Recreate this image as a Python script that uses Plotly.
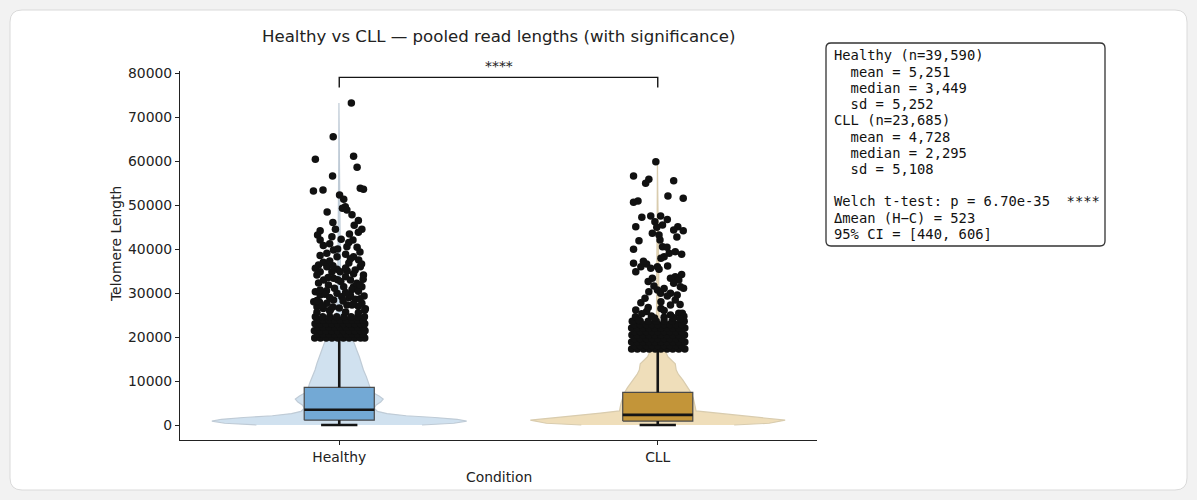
import plotly.graph_objects as go

# ---------------- data ----------------
categories = ["Healthy", "CLL"]
cat_pos = [0, 1]

# box-plot statistics
q1 = [1100, 900]
median = [3449, 2295]
q3 = [8560, 7400]
lower_fence = [0, 0]
upper_fence = [19750, 17150]

# summary statistics (text box)
group_n = ["39,590", "23,685"]
group_mean = ["5,251", "4,728"]
group_median = ["3,449", "2,295"]
group_sd = ["5,252", "5,108"]
welch_p = "6.70e-35"
sig_label = "****"
delta_mean = "523"
ci_low, ci_high = "440", "606"

# violin density profiles (value, half-width in category units)
healthy_violin_vals = [0, 400, 900, 1300, 1700, 2100, 2600, 3100, 3800, 4500, 5200, 5900, 6600,
                       7400, 8500, 9500, 11000, 12500, 14000, 15500, 17000, 18600, 20000, 22000,
                       25000, 30000, 40000, 50000, 60000, 73200]
healthy_violin_half = [0.26, 0.36, 0.40, 0.37, 0.30, 0.21, 0.15, 0.12, 0.11, 0.115, 0.13, 0.138,
                       0.125, 0.105, 0.097, 0.093, 0.085, 0.076, 0.07, 0.063, 0.055, 0.047, 0.035,
                       0.02, 0.01, 0.005, 0.003, 0.002, 0.0015, 0.001]
cll_violin_vals = [0, 400, 1100, 1600, 2200, 2700, 3200, 4000, 5000, 6000, 7300, 8500, 9500,
                   10200, 11500, 12500, 13900, 15500, 16400, 17500, 19000, 21000, 25000, 35000,
                   45000, 59840]
cll_violin_half = [0.24, 0.35, 0.40, 0.33, 0.25, 0.18, 0.12, 0.118, 0.115, 0.112, 0.105, 0.095,
                   0.086, 0.079, 0.065, 0.058, 0.055, 0.032, 0.026, 0.02, 0.012, 0.007, 0.004,
                   0.003, 0.002, 0.001]

# outlier points (value, horizontal jitter)
healthy_out_vals = [73200, 65500, 61100, 60400, 58570, 56600, 53800, 53560, 53400, 53180, 52270,
                    51300, 49600, 49250, 48860, 48400, 45380, 44470, 44470, 44160, 43400, 43180,
                    42800, 42200, 42050, 42050, 40530, 40390, 39770, 39020, 38250, 38250, 37500,
                    36360, 35980, 35980, 35600, 35380, 35230, 34850, 34850, 34850, 34090, 34090,
                    33330, 32950, 32950, 31820, 31440, 31440, 31440, 30300, 29920, 29550, 29170,
                    28560, 28410, 27650, 27650, 27270, 26890, 28000, 28900, 27000, 26500, 26600,
                    26400, 27900, 29300, 30800, 30500, 32200, 33700, 36800, 37000, 38800, 41200,
                    46500, 26200, 27300, 28200, 29700, 30900, 33000,
                    25600, 25900, 25700, 25500, 26100, 26800, 27100, 27500, 28300, 28700, 29000,
                    29500, 30100, 30400, 30700, 31100, 31800, 32300, 32600, 33100, 33500, 34400,
                    35000, 35700, 36200, 36600, 37300, 37800, 38500, 39300, 40000, 40800, 41500,
                    43800, 46000, 47800]
healthy_out_jit = [0.038, -0.019, 0.045, -0.075, 0.056, -0.021, 0.066, 0.076, -0.051, -0.081, 0.001,
                   0.014, 0.019, 0.010, 0.024, -0.038, 0.047, 0.071, -0.012, -0.060, 0.032, -0.068,
                   -0.023, 0.006, -0.060, 0.043, 0.024, 0.056, -0.018, -0.039, -0.007, 0.045, 0.061,
                   -0.065, -0.039, 0.066, -0.075, -0.007, 0.050, -0.060, -0.023, 0.003, -0.070, 0.076,
                   -0.018, -0.049, 0.035, -0.034, 0.014, 0.045, 0.071, -0.075, -0.007, -0.060, 0.008,
                   0.050, -0.018, -0.039, 0.071, 0.024, -0.070, -0.080, 0.030, 0.060, -0.050, 0.000,
                   0.082, -0.062, 0.078, 0.040, -0.040, 0.055, 0.020, 0.030, -0.050, 0.020, -0.030,
                   0.060, -0.028, 0.040, 0.012, -0.045, 0.060, -0.005,
                   -0.070, -0.030, 0.020, 0.060, 0.080, -0.020, -0.055, 0.045, -0.070, 0.065, -0.030,
                   0.035, 0.020, 0.060, -0.060, -0.015, 0.065, -0.065, 0.005, 0.075, -0.035, 0.045,
                   0.025, 0.020, -0.020, 0.070, -0.030, 0.035, -0.060, 0.065, -0.005, -0.050, 0.030,
                   0.060, -0.020, 0.040]

healthy_block_vals = ([19800] * 10 + [20600] * 9 + [21400] * 10 + [22200] * 9 + [23000] * 10
                      + [23800] * 9 + [24600] * 8)
healthy_block_jit = [-0.077, -0.059, -0.041, -0.023, -0.005, 0.013, 0.031, 0.049, 0.067, 0.080,
                     -0.068, -0.050, -0.032, -0.014, 0.004, 0.022, 0.040, 0.058, 0.075,
                     -0.078, -0.059, -0.041, -0.023, -0.005, 0.013, 0.031, 0.049, 0.067, 0.081,
                     -0.068, -0.050, -0.032, -0.014, 0.004, 0.022, 0.040, 0.058, 0.076,
                     -0.076, -0.059, -0.041, -0.023, -0.005, 0.013, 0.031, 0.049, 0.067, 0.080,
                     -0.068, -0.050, -0.032, -0.014, 0.004, 0.022, 0.040, 0.058, 0.075,
                     -0.075, -0.052, -0.030, -0.008, 0.015, 0.037, 0.058, 0.079]

cll_out_vals = [59840, 56590, 55840, 55530, 54930, 52050, 51520, 50910, 50610, 47500, 47500, 47200,
                46200, 45450, 45070, 45070, 44920, 44320, 44160, 43560, 43180, 42050, 41890, 40530,
                40380, 39920, 39020, 38790, 38250, 37880, 36740, 36590, 36140, 35980, 35980, 35610,
                35380, 34850, 33710, 33330, 33330, 32950, 32200, 31590, 31440, 31060, 30680, 30300,
                29920, 29920, 29550, 28410, 27800, 27270, 26140, 25380, 25380, 24600, 24800, 24500,
                24400, 25800, 26500, 24700,
                23900, 24100, 24300, 25000, 25300, 26000, 26700, 27400, 28000, 28800, 29300, 31000,
                32600, 34200, 37200, 39400, 42700, 46700]
cll_out_jit = [-0.006, -0.076, -0.028, 0.050, -0.038, 0.032, 0.080, -0.062, -0.076, -0.022, 0.009,
               -0.050, -0.009, 0.015, -0.069, 0.063, -0.003, 0.050, 0.080, -0.017, 0.004, 0.007,
               -0.059, 0.015, 0.029, -0.076, 0.036, 0.075, 0.020, 0.010, -0.076, -0.035, 0.031,
               -0.053, -0.001, -0.022, 0.004, -0.069, 0.055, -0.017, 0.040, 0.066, 0.050, -0.012,
               0.071, 0.081, -0.001, -0.028, 0.009, 0.040, 0.061, 0.055, -0.053, 0.040, -0.069,
               0.066, 0.077, -0.070, -0.020, 0.020, 0.050, -0.035, 0.010, 0.082,
               -0.060, 0.070, -0.010, 0.040, -0.050, 0.020, -0.030, 0.070, 0.010, -0.040, 0.030,
               0.020, -0.030, 0.075, -0.045, 0.055, 0.060, 0.030]

cll_block_vals = ([17250] * 10 + [18050] * 9 + [18850] * 10 + [19650] * 9 + [20450] * 10
                  + [21250] * 9 + [22050] * 10 + [22850] * 9 + [23600] * 7)
cll_block_jit = [-0.082, -0.064, -0.045, -0.027, -0.008, 0.010, 0.029, 0.047, 0.066, 0.085,
                 -0.073, -0.055, -0.036, -0.018, 0.001, 0.020, 0.038, 0.057, 0.075,
                 -0.082, -0.064, -0.045, -0.027, -0.008, 0.010, 0.029, 0.047, 0.066, 0.085,
                 -0.073, -0.055, -0.036, -0.018, 0.001, 0.020, 0.038, 0.057, 0.075,
                 -0.081, -0.064, -0.045, -0.027, -0.008, 0.010, 0.029, 0.047, 0.066, 0.084,
                 -0.073, -0.055, -0.036, -0.018, 0.001, 0.020, 0.038, 0.057, 0.075,
                 -0.082, -0.064, -0.045, -0.027, -0.008, 0.010, 0.029, 0.047, 0.066, 0.085,
                 -0.073, -0.055, -0.036, -0.018, 0.001, 0.020, 0.038, 0.057, 0.076,
                 -0.080, -0.055, -0.030, -0.005, 0.020, 0.045, 0.083]

bracket_y = 79000
bracket_drop = 2300
stars_y = 81500

# ---------------- styling ----------------
violin_fill = ["#d0e1ef", "#efdeba"]
violin_line = ["#bfcbd6", "#d9ccae"]
box_fill = ["#73a9d5", "#c39539"]
BOX_HALF = 0.11
CAP_HALF = 0.057
FONT = "DejaVu Sans"
MONO = "DejaVu Sans Mono"
TXT = "#222222"

W, H = 1197, 500
L, R, T, B = 180, 380, 71, 60
PW, PH = W - L - R, H - T - B
X_RANGE = [-0.5, 1.5]
Y_RANGE = [-3410, 80455]


def px_to_paper_x(px):
    return (px - L) / PW


def px_to_paper_y(py):
    return (H - B - py) / PH


def data_to_paper_x(v):
    return (v - X_RANGE[0]) / (X_RANGE[1] - X_RANGE[0])


def data_to_paper_y(v):
    return (v - Y_RANGE[0]) / (Y_RANGE[1] - Y_RANGE[0])


def rounded_rect(x0, y0, x1, y1, r):
    rx, ry = r / PW, r / PH
    X0, X1 = px_to_paper_x(x0), px_to_paper_x(x1)
    Y0, Y1 = px_to_paper_y(y0), px_to_paper_y(y1)  # Y0 top, Y1 bottom
    return (f"M {X0+rx},{Y0} L {X1-rx},{Y0} Q {X1},{Y0} {X1},{Y0-ry} "
            f"L {X1},{Y1+ry} Q {X1},{Y1} {X1-rx},{Y1} L {X0+rx},{Y1} "
            f"Q {X0},{Y1} {X0},{Y1+ry} L {X0},{Y0-ry} Q {X0},{Y0} {X0+rx},{Y0} Z")


fig = go.Figure()

# violins
profiles = [(healthy_violin_vals, healthy_violin_half), (cll_violin_vals, cll_violin_half)]
for i, (vals, half) in enumerate(profiles):
    c = cat_pos[i]
    xs = [c + h for h in half] + [c - h for h in reversed(half)]
    ys = list(vals) + list(reversed(vals))
    fig.add_trace(go.Scatter(x=xs, y=ys, mode="lines", fill="toself",
                             fillcolor=violin_fill[i],
                             line=dict(color=violin_line[i], width=1.2),
                             hoverinfo="skip", showlegend=False))

# boxes (drawn as filled rectangles so they sit above the violins)
for i in range(2):
    c = cat_pos[i]
    fig.add_trace(go.Scatter(x=[c - BOX_HALF, c + BOX_HALF, c + BOX_HALF, c - BOX_HALF, c - BOX_HALF],
                             y=[q1[i], q1[i], q3[i], q3[i], q1[i]],
                             mode="lines", fill="toself", fillcolor=box_fill[i],
                             line=dict(color="#4a4a4a", width=1.2),
                             hoverinfo="skip", showlegend=False))

# whiskers, caps and medians (thick)
for i in range(2):
    c = cat_pos[i]
    xs = [c, c, None, c, c, None, c - CAP_HALF, c + CAP_HALF, None, c - CAP_HALF, c + CAP_HALF, None,
          c - BOX_HALF, c + BOX_HALF]
    ys = [q3[i], upper_fence[i], None, q1[i], lower_fence[i], None,
          lower_fence[i], lower_fence[i], None, upper_fence[i], upper_fence[i], None,
          median[i], median[i]]
    fig.add_trace(go.Scatter(x=xs, y=ys, mode="lines",
                             line=dict(color="#151515", width=2.6),
                             hoverinfo="skip", showlegend=False))

# outlier points
for c, vals, jit in [(cat_pos[0], healthy_block_vals + healthy_out_vals, healthy_block_jit + healthy_out_jit),
                     (cat_pos[1], cll_block_vals + cll_out_vals, cll_block_jit + cll_out_jit)]:
    fig.add_trace(go.Scatter(x=[c + j for j in jit], y=vals, mode="markers",
                             marker=dict(color="#111111", size=7.5, line=dict(width=0)),
                             hoverinfo="skip", showlegend=False))

shapes = [
    dict(type="path", xref="paper", yref="paper", path=rounded_rect(10, 10, 1187, 490, 12),
         fillcolor="white", line=dict(color="#dadada", width=1), layer="below"),
    dict(type="path", xref="paper", yref="paper", path=rounded_rect(826, 43, 1105, 246, 5),
         fillcolor="white", line=dict(color="#333333", width=1.3), layer="below"),
]
# significance bracket
bx0, bx1 = data_to_paper_x(cat_pos[0]), data_to_paper_x(cat_pos[1])
by_top, by_bot = data_to_paper_y(bracket_y), data_to_paper_y(bracket_y - bracket_drop)
shapes.append(dict(type="path", xref="paper", yref="paper",
                   path=f"M {bx0},{by_bot} L {bx0},{by_top} L {bx1},{by_top} L {bx1},{by_bot}",
                   line=dict(color="#151515", width=1.4)))

annotations = [
    dict(text="Healthy vs CLL — pooled read lengths (with significance)", xref="paper", yref="paper",
         x=0.5, y=px_to_paper_y(37), xanchor="center", yanchor="middle", showarrow=False,
         font=dict(family=FONT, size=16.6, color=TXT)),
    dict(text=sig_label, xref="paper", yref="paper", x=(bx0 + bx1) / 2, y=data_to_paper_y(stars_y),
         xanchor="center", yanchor="middle", showarrow=False,
         font=dict(family=FONT, size=13.9, color=TXT)),
    dict(text="Telomere Length", xref="paper", yref="paper", x=px_to_paper_x(116),
         y=px_to_paper_y(244), textangle=-90, xanchor="center", yanchor="middle",
         showarrow=False, font=dict(family=FONT, size=13.9, color=TXT)),
    dict(text="Condition", xref="paper", yref="paper", x=0.5, y=px_to_paper_y(477),
         xanchor="center", yanchor="middle", showarrow=False,
         font=dict(family=FONT, size=13.9, color=TXT)),
]

box_lines = [
    f"{categories[0]} (n={group_n[0]})",
    f"  mean = {group_mean[0]}",
    f"  median = {group_median[0]}",
    f"  sd = {group_sd[0]}",
    f"{categories[1]} (n={group_n[1]})",
    f"  mean = {group_mean[1]}",
    f"  median = {group_median[1]}",
    f"  sd = {group_sd[1]}",
    "",
    f"Welch t-test: p = {welch_p}  {sig_label}",
    f"Δmean (H−C) = {delta_mean}",
    f"95% CI = [{ci_low}, {ci_high}]",
]
for k, line in enumerate(box_lines):
    if not line:
        continue
    annotations.append(dict(text=line.replace(" ", "\u00a0"), xref="paper", yref="paper",
                            x=px_to_paper_x(832), y=px_to_paper_y(55.5 + 16.2 * k),
                            xanchor="left", yanchor="middle", showarrow=False,
                            font=dict(family=MONO, size=13.8, color="#111111")))

fig.update_layout(
    width=W, height=H,
    margin=dict(l=L, r=R, t=T, b=B, autoexpand=False),
    paper_bgcolor="#f2f2f2", plot_bgcolor="rgba(0,0,0,0)",
    showlegend=False, shapes=shapes, annotations=annotations,
    xaxis=dict(range=X_RANGE, tickvals=cat_pos, ticktext=categories, showgrid=False,
               zeroline=False, showline=True, linecolor="#222222", linewidth=1.1,
               ticks="outside", ticklen=4, tickwidth=1.1, tickcolor="#222222",
               tickfont=dict(family=FONT, size=13.9, color=TXT), fixedrange=True),
    yaxis=dict(range=Y_RANGE, tickvals=[0, 10000, 20000, 30000, 40000, 50000, 60000, 70000, 80000],
               ticktext=["0", "10000", "20000", "30000", "40000", "50000", "60000", "70000", "80000"],
               showgrid=False, zeroline=False, showline=True, linecolor="#222222", linewidth=1.1,
               ticks="outside", ticklen=4, tickwidth=1.1, tickcolor="#222222",
               tickfont=dict(family=FONT, size=13.9, color=TXT), fixedrange=True),
)

fig.write_html("out.html")
